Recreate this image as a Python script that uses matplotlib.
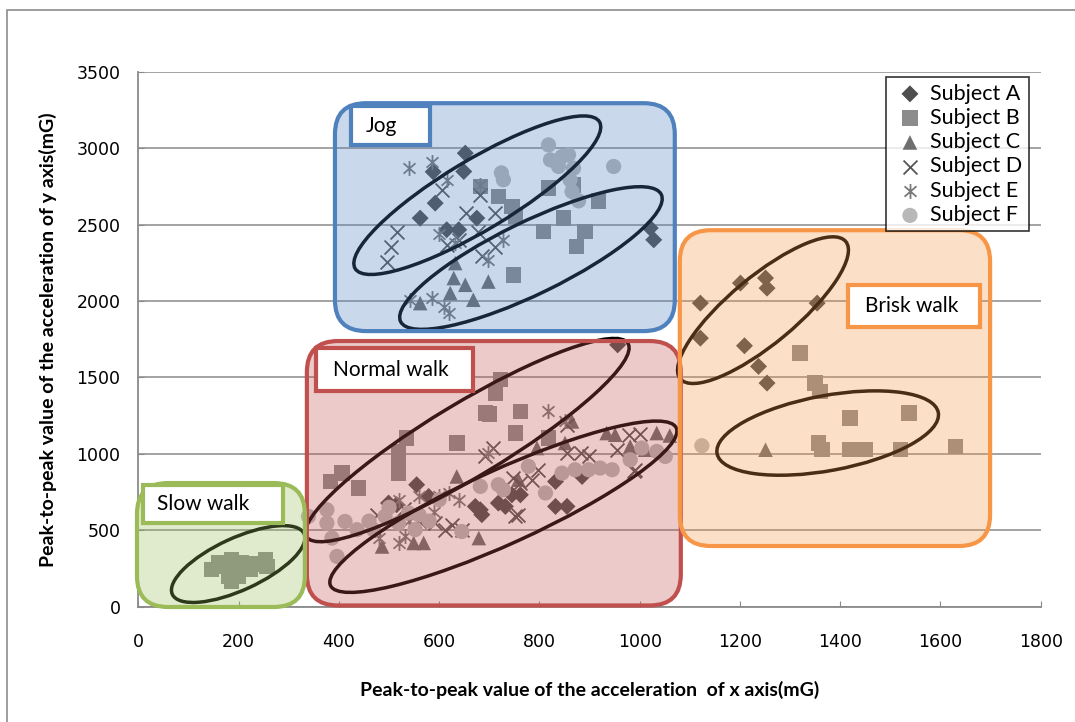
import numpy as np
import matplotlib
matplotlib.use('Agg')
import matplotlib.pyplot as plt
from matplotlib.patches import FancyBboxPatch, Ellipse, Rectangle
from matplotlib.path import Path
from matplotlib.transforms import ScaledTranslation

# peak-to-peak values (mG), per subject
a_x = [652, 649, 588, 592, 562, 615, 639, 675, 1021, 1028,
       956, 832, 855, 832, 885, 762, 732, 555, 579, 499, 515, 672, 685, 682, 718, 745,
       1121, 1121, 1201, 1251, 1254, 1354, 1209, 1237, 1254]
a_y = [2967, 2847, 2845, 2640, 2542, 2466, 2466, 2542, 2477, 2400,
       1713, 656, 656, 819, 852, 732, 656, 798, 721, 678, 667, 656, 602, 634, 678, 732,
       1986, 1757, 2117, 2150, 2084, 1986, 1707, 1572, 1463]

b_x = [146, 173, 186, 186, 206, 223, 253, 256, 160, 180, 200, 230,
       682, 718, 745, 752, 818, 848, 808, 891, 874, 918, 868, 748,
       722, 712, 692, 762, 752, 818, 635, 535, 519, 519, 519, 383, 406, 439, 700,
       1320, 1350, 1360, 1420, 1537, 1357, 1364, 1420, 1450, 1520, 1630]
b_y = [242, 264, 307, 165, 286, 242, 307, 264, 286, 198, 200, 280,
       2749, 2683, 2618, 2552, 2740, 2544, 2454, 2454, 2356, 2655, 2760, 2171,
       1485, 1398, 1267, 1277, 1136, 1103, 1071, 1103, 1016, 940, 874, 819, 874, 776, 1260,
       1659, 1463, 1408, 1234, 1267, 1071, 1027, 1027, 1027, 1027, 1048]

c_x = [632, 629, 652, 698, 622, 668, 562,
       865, 795, 934, 951, 1034, 981, 851, 758, 679, 635, 549, 569, 486, 1011, 1060,
       1251]
c_y = [2248, 2150, 2106, 2127, 2052, 2008, 1986,
       1212, 1038, 1136, 1125, 1136, 1048, 1071, 831, 449, 852, 417, 417, 394, 1027, 1120,
       1027]

d_x = [495, 503, 515, 605, 682, 653, 712, 678, 615, 639, 712, 685,
       855, 978, 955, 855, 883, 898, 798, 785, 748, 758, 708, 988, 692, 592, 625,
       645, 612, 476, 762, 752, 991, 1000, 560, 530]
d_y = [2256, 2354, 2452, 2727, 2694, 2577, 2577, 2452, 2367, 2400, 2356, 2291,
       1190, 1125, 1027, 1005, 1005, 983, 896, 831, 842, 602, 1038, 885, 983, 547, 536,
       504, 504, 602, 809, 591, 896, 1130, 560, 640]

e_x = [539, 585, 615, 682, 728, 698, 632, 542, 585, 609, 619, 600,
       818, 851, 698, 559, 519, 599, 519, 532, 472, 619, 639, 590, 540, 480]
e_y = [2871, 2910, 2793, 2760, 2400, 2269, 2379, 2008, 2021, 1962, 1923, 2440,
       1277, 1212, 1005, 721, 700, 721, 417, 460, 504, 744, 700, 620, 560, 450]

f_x = [376, 376, 386, 396, 412, 436, 469, 492, 519, 539, 552, 645, 682, 718, 728,
       778, 812, 845, 871, 898, 921, 945, 981, 1004, 1034, 1051, 339, 560, 600, 500, 460, 580,
       818, 822, 845, 858, 868, 838, 861, 865, 878, 948, 724, 728,
       1124]
f_y = [634, 547, 449, 329, 558, 504, 504, 591, 547, 613, 504, 492, 787, 798, 765,
       918, 744, 874, 896, 896, 907, 896, 961, 1038, 1016, 983, 591, 600, 700, 650, 560, 560,
       3021, 2923, 2945, 2956, 2869, 2880, 2793, 2716, 2655, 2880, 2838, 2793,
       1053]

subjects = ['Subject A', 'Subject B', 'Subject C', 'Subject D', 'Subject E', 'Subject F']

# activity regions: (label, x0, y0, x1, y1, colour)
regions = [
    ('Jog', 392, 1803, 1070, 3294, '#4f81bd'),
    ('Normal walk', 336, 8, 1082, 1738, '#c0504d'),
    ('Slow walk', -3, -2, 332, 809, '#9bbb59'),
    ('Brisk walk', 1080, 397, 1699, 2463, '#f79646'),
]
# label boxes: x0, y0, x1, y1, text x
label_boxes = [
    (424, 3021, 582, 3275, 454),
    (354, 1411, 667, 1692, 388),
    (9, 547, 288, 796, 37),
    (1416, 1830, 1679, 2104, 1450),
]
# cluster ellipses: centre (data), width, height in pixels, angle
ellipses = [
    (676, 2692, 285, 70, 31),
    (783, 2281, 290, 72, 26),
    (656, 1090, 375, 74, 31),
    (728, 654, 380, 74, 24.5),
    (199, 279, 145, 52, 24.7),
    (1246, 1940, 215, 67, 39.7),
    (1375, 1136, 225, 75, 10.5),
]

plt.rcParams['font.family'] = ['Lato', 'DejaVu Sans']

fig = plt.figure(figsize=(10.75, 7.22), dpi=100)
ax = fig.add_axes([0.1288, 0.1597, 0.8393, 0.741])

# outer chart border
fig.add_artist(Rectangle((7 / 1075, -0.1), 1.2, 1.1 - 10 / 722, transform=fig.transFigure,
                         fill=False, edgecolor='#8c8c8c', lw=1.2))

star = Path([(0, -1), (0, 1), (-0.8, -0.7), (0.8, 0.7), (-0.8, 0.7), (0.8, -0.7)],
            [Path.MOVETO, Path.LINETO] * 3)

series = [
    (a_x, a_y, 'D', 75, '#4e4e4e', True),
    (b_x, b_y, 's', 125, '#8c8c8c', True),
    (c_x, c_y, '^', 110, '#6e6e6e', True),
    (d_x, d_y, 'x', 100, '#555555', False),
    (e_x, e_y, star, 115, '#7a7a7a', False),
    (f_x, f_y, 'o', 120, '#b8b8b8', True),
]
handles = []
for (xs, ys, m, s, col, filled), name in zip(series, subjects):
    if filled:
        h = ax.scatter(xs, ys, marker=m, s=s, c=col, edgecolors='none', zorder=2, label=name)
    else:
        h = ax.scatter(xs, ys, marker=m, s=s, c=col, edgecolors=col,
                       linewidths=1.3, zorder=2, label=name)
    handles.append(h)

asp = (1 / 0.1529) / (1 / 0.5012)
for cx, cy, w, h, ang in ellipses:
    tr = fig.dpi_scale_trans + ScaledTranslation(cx, cy, ax.transData)
    ax.add_patch(Ellipse((0, 0), w / 100, h / 100, angle=ang, transform=tr,
                         fill=False, edgecolor='black', lw=2.5, zorder=3))

for (name, x0, y0, x1, y1, col), (lx0, ly0, lx1, ly1, tx) in zip(regions, label_boxes):
    rgba = matplotlib.colors.to_rgba(col, 0.3)
    ax.add_patch(FancyBboxPatch((x0, y0), x1 - x0, y1 - y0,
                                boxstyle='round,pad=0,rounding_size=62', mutation_aspect=asp,
                                facecolor=rgba, edgecolor=col, lw=3, zorder=4, clip_on=False))
    ax.add_patch(Rectangle((lx0, ly0), lx1 - lx0, ly1 - ly0, facecolor='white',
                           edgecolor=col, lw=3, zorder=5, clip_on=False))
    ax.text(tx, (ly0 + ly1) / 2, name, fontsize=15, ha='left', va='center',
            color='black', zorder=6)

ax.set_xlim(0, 1800)
ax.set_ylim(0, 3500)
ax.set_xticks(np.arange(0, 1801, 200))
ax.set_yticks(np.arange(0, 3501, 500))
ax.grid(axis='y', color='#8a8a8a', lw=1.1, zorder=0)
ax.set_axisbelow(True)
for sp in ['top', 'right']:
    ax.spines[sp].set_visible(False)
for sp in ['left', 'bottom']:
    ax.spines[sp].set_color('#8a8a8a')
    ax.spines[sp].set_linewidth(1.3)
ax.tick_params(direction='in', length=4, color='#8a8a8a', labelsize=12.5)
ax.tick_params(axis='x', pad=19)
ax.tick_params(axis='y', pad=13)
for lab in ax.get_xticklabels() + ax.get_yticklabels():
    lab.set_fontfamily('DejaVu Sans')

ax.set_xlabel('Peak-to-peak value of the acceleration  of x axis(mG)', fontsize=14,
              fontweight='bold')
ax.set_ylabel('Peak-to-peak value of the acceleration of y axis(mG)', fontsize=14,
              fontweight='bold')
ax.xaxis.set_label_coords(0.5, -0.138)
ax.yaxis.set_label_coords(-0.09, 0.5)

leg = ax.legend(handles=handles, loc='upper right', bbox_to_anchor=(0.987, 0.99),
                fontsize=15.5, frameon=True, fancybox=False, edgecolor='black',
                borderpad=0.3, labelspacing=0.2, handlelength=1.6, handletextpad=0.15,
                borderaxespad=0)
leg.get_frame().set_linewidth(1.2)
leg.set_zorder(7)

fig.savefig('out.png', dpi=100)
